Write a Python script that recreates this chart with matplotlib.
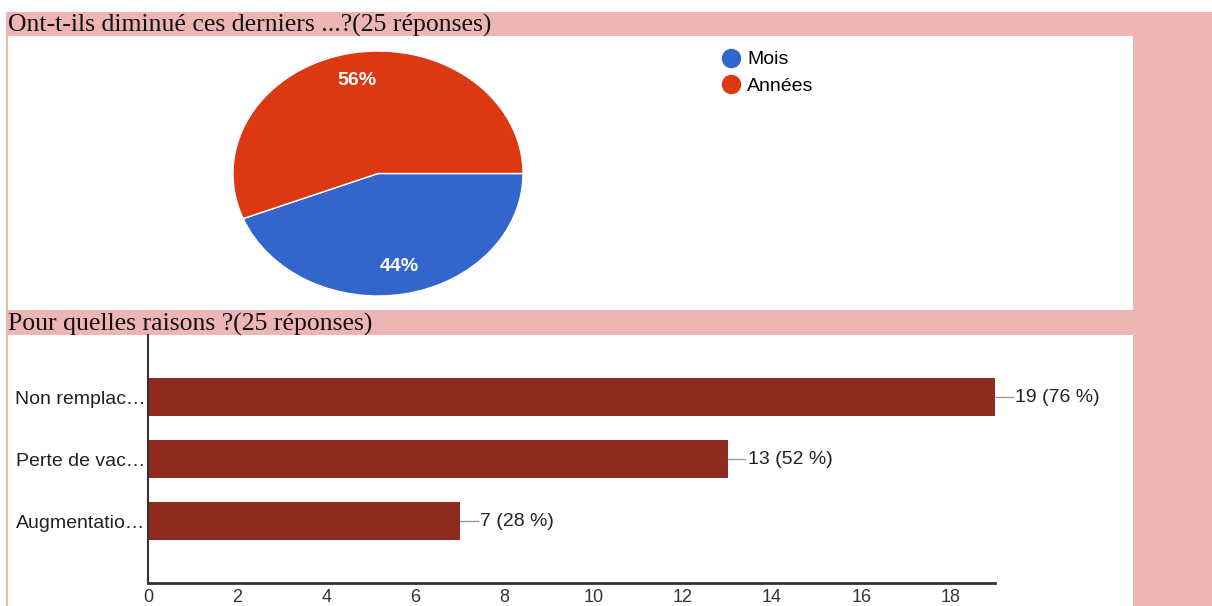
import matplotlib
matplotlib.use("Agg")
import matplotlib.pyplot as plt
from matplotlib.patches import Rectangle
from matplotlib.lines import Line2D

# Pie: "Ont-t-ils diminué ces derniers ...?"
pie_labels = ["Mois", "Années"]
pie_values = [11, 14]  # 44 % / 56 % of 25
pie_colors = ["#3366cc", "#dc3912"]
pie_title = "Ont-t-ils diminué ces derniers ...?(25 réponses)"

# Bars: "Pour quelles raisons ?"
bar_labels = ["Non remplac…", "Perte de vac…", "Augmentatio…"]
bar_values = [19, 13, 7]
n_responses = 25
x_ticks = [0, 2, 4, 6, 8, 10, 12, 14, 16, 18]
bar_title = "Pour quelles raisons ?(25 réponses)"

W, H = 1212, 606
PINK = "#eeb5b5"
BAR_COLOR = "#912a1e"

plt.rcParams['font.family'] = ['Liberation Sans', 'DejaVu Sans']


def fx(x):
    return x / W


def fy(y):
    return 1 - y / H


fig = plt.figure(figsize=(W / 100, H / 100), dpi=100, facecolor="white")

# page background: pink frame with two white panels
fig.add_artist(Rectangle((fx(6), 0), 1 - fx(6), fy(12), transform=fig.transFigure,
                         facecolor=PINK, edgecolor="none", zorder=-3))
fig.add_artist(Rectangle((fx(8), fy(310)), fx(1133 - 8), (310 - 36) / H,
                         transform=fig.transFigure, facecolor="white",
                         edgecolor="none", zorder=-2))
fig.add_artist(Rectangle((fx(8), 0), fx(1133 - 8), (606 - 335) / H,
                         transform=fig.transFigure, facecolor="white",
                         edgecolor="none", zorder=-2))

fig.text(fx(8), fy(25), pie_title, family=['Liberation Serif'], fontsize=18.5,
         va="center", ha="left", color="#111111")
fig.text(fx(8), fy(324), bar_title, family=['Liberation Serif'], fontsize=18.5,
         va="center", ha="left", color="#111111")

# pie chart (stretched horizontally like the reference)
ax_pie = fig.add_axes([fx(233), fy(296), fx(523 - 233), (296 - 51) / H])
ax_pie.pie(pie_values, colors=pie_colors, startangle=0, counterclock=False,
           autopct=lambda p: f"{p:.0f}%", pctdistance=0.77,
           wedgeprops={"edgecolor": "white", "linewidth": 1},
           textprops={"color": "white", "fontsize": 14, "fontweight": "bold"})
ax_pie.set_aspect("auto")
ax_pie.set_xlim(-1, 1)
ax_pie.set_ylim(-1, 1)
ax_pie.set_axis_off()

handles = [Line2D([], [], marker="o", linestyle="", markersize=13, color=c)
           for c in pie_colors]
fig.legend(handles, pie_labels, loc="upper left",
           bbox_to_anchor=(fx(713), fy(43)), frameon=False, fontsize=14,
           handlelength=1, handletextpad=0.35, labelspacing=0.45,
           borderaxespad=0)

# bar chart
ax = fig.add_axes([fx(148), fy(583), fx(995 - 148), (583 - 335) / H])
ax.set_facecolor("none")
pos = list(range(len(bar_values)))
ax.barh(pos, bar_values, height=0.6, color=BAR_COLOR)
for i, v in zip(pos, bar_values):
    ax.plot([v, v + 0.4], [i, i], color="#999999", lw=1, clip_on=False)
    ax.text(v + 0.45, i, f"{v} ({v / n_responses * 100:.0f} %)",
            va="center", ha="left", fontsize=14, color="#222222")

ax.set_xlim(0, 19)
ax.set_ylim(3, -1)
ax.set_yticks(pos)
ax.set_yticklabels(bar_labels, fontsize=14, color="#222222")
ax.set_xticks(x_ticks)
ax.set_xticklabels([str(t) for t in x_ticks], fontsize=13, color="#333333")
ax.tick_params(length=0)
ax.tick_params(axis="y", pad=2)
ax.tick_params(axis="x", pad=4)
for side in ("top", "right"):
    ax.spines[side].set_visible(False)
ax.spines["left"].set_color("#333333")
ax.spines["left"].set_linewidth(1.5)
ax.spines["bottom"].set_color("#333333")
ax.spines["bottom"].set_linewidth(2)

fig.savefig("out.png", dpi=100, facecolor="white")
